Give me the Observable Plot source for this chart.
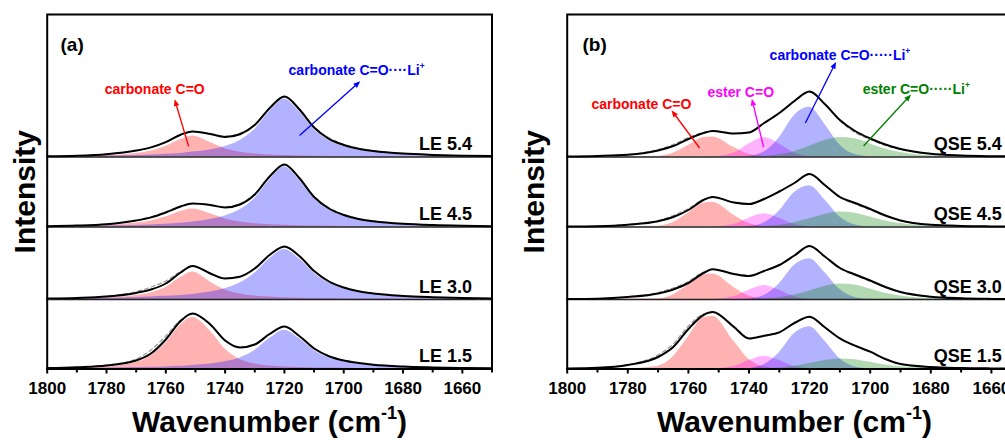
<!DOCTYPE html>
<html><head><meta charset="utf-8">
<script src="https://cdn.jsdelivr.net/npm/d3@7"></script>
<script src="https://cdn.jsdelivr.net/npm/@observablehq/plot@0.6"></script>
<style>
html,body{margin:0;padding:0;background:#fff;overflow:hidden;}
#wrap{display:flex;width:1005px;height:440px;overflow:hidden;}
#wrap svg{flex:none;}
</style></head><body><div id="wrap"></div>
<script>
// ---------- wavenumber grids (cm-1) ----------
const wnA = [1800,1790,1780,1770,1765,1760,1755,1751,1745,1740,1735,1730,1725,1720,1715,1710,1705,1700,1695,1690,1680,1670,1660,1650];
const wnB = [1800,1790,1780,1770,1765,1760,1755,1752,1745,1740,1735,1730,1725,1720,1715,1710,1705,1700,1695,1690,1680,1670,1660,1650];

// ---------- panel (a): LE electrolytes ----------
const LE54_carbonate   = [0.4,0.7,1.4,3.6,6.0,10.4,17.4,21.0,14.5,8.3,4.8,3.0,2.0,1.4,1.0,0.8,0.6,0.5,0.4,0.3,0.2,0.2,0.1,0.1];
const LE54_carbonateLi = [0.4,0.6,0.9,1.5,2.0,2.7,3.6,4.9,7.1,10.5,16.5,27.5,45.4,58.0,45.4,27.5,16.5,10.5,7.1,5.0,2.7,1.5,0.9,0.6];
const LE54_fit         = [0.8,1.3,2.8,6.4,9.6,14.8,22.3,25.5,23.0,20.0,22.8,32.0,48.8,60.5,47.8,29.5,18.2,12.0,8.2,6.0,3.4,2.1,1.3,0.9];
const LE54_measured    = [0.6,1.2,2.8,6.4,9.6,14.8,22.3,25.5,23.2,20.8,23.8,32.5,48.8,60.0,48.2,30.2,19.2,12.8,8.8,6.2,3.4,2.0,1.2,0.8];

const LE45_carbonate   = [0.4,0.8,1.6,3.9,6.1,9.9,15.5,18.0,13.2,8.1,5.1,3.3,2.3,1.7,1.3,1.0,0.8,0.6,0.5,0.4,0.3,0.2,0.15,0.1];
const LE45_carbonateLi = [0.4,0.6,1.0,1.6,2.1,2.8,3.7,5.0,7.5,11.1,17.2,28.4,47.0,60.0,47.0,28.4,17.2,11.1,7.5,5.2,2.8,1.6,1.0,0.6];
const LE45_fit         = [0.8,1.4,2.8,6.5,9.6,14.5,20.5,23.5,22.0,19.5,22.5,32.5,50.5,62.5,49.0,30.0,18.5,12.0,8.0,5.8,3.2,1.9,1.2,0.8];
const LE45_measured    = [0.6,1.3,2.8,6.6,10.0,15.2,20.8,23.5,22.2,20.2,23.5,33.0,50.5,61.8,49.2,30.5,19.3,12.7,8.4,6.0,3.2,1.8,1.1,0.7];

const LE30_carbonate   = [0.4,0.8,1.7,4.1,6.8,12.1,22.0,27.5,17.6,9.5,5.5,3.5,2.4,1.7,1.3,1.0,0.8,0.6,0.5,0.4,0.3,0.2,0.15,0.1];
const LE30_carbonateLi = [0.5,0.8,1.2,2.1,2.6,3.2,4.1,5.1,7.5,10.8,16.4,26.2,40.7,50.0,40.7,26.2,16.4,10.8,7.5,5.4,3.2,2.1,1.2,0.8];
const LE30_fit         = [0.9,1.6,3.0,6.6,10.0,16.0,27.0,33.5,26.0,21.0,22.8,31.0,44.5,53.0,43.5,28.5,18.0,12.0,8.2,6.0,3.6,2.3,1.4,0.9];
const LE30_measured    = [0.6,1.4,3.2,7.8,12.5,18.5,28.0,33.0,26.2,21.4,23.0,31.2,44.5,52.6,43.8,28.8,18.4,12.2,8.2,5.9,3.5,2.1,1.2,0.8];

const LE15_carbonate   = [0.5,1.0,2.2,6.5,13.0,26.0,44.0,51.5,38.0,20.0,9.5,5.0,3.0,2.1,1.5,1.1,0.9,0.7,0.6,0.5,0.3,0.2,0.15,0.1];
const LE15_carbonateLi = [0.4,0.6,0.9,1.4,1.7,2.1,2.7,3.4,4.9,7.2,11.1,18.4,30.4,38.8,30.4,18.4,11.1,7.2,4.9,3.5,2.0,1.3,0.8,0.5];
const LE15_fit         = [0.9,1.8,3.5,8.5,15.5,29.5,48.0,55.5,44.5,28.5,21.5,24.5,35.0,42.5,33.0,20.5,12.8,8.5,6.0,4.3,2.5,1.6,1.0,0.7];
const LE15_measured    = [0.6,1.6,3.8,10.0,19.0,33.0,49.0,55.0,44.5,28.8,21.8,24.8,35.0,42.0,33.2,20.8,13.0,8.6,6.0,4.2,2.4,1.5,0.9,0.6];

// ---------- panel (b): QSE electrolytes ----------
const QSE54_carbonate   = [0,0.1,0.3,0.7,3.7,11.4,19.4,20.1,9.5,2.7,0.4,0.1,0,0,0,0,0,0,0,0,0,0,0,0];
const QSE54_ester       = [0,0,0,0,0,0,0,0.2,3.7,12.9,19.5,12.9,3.7,0.5,0.1,0,0,0,0,0,0,0,0,0];
const QSE54_carbonateLi = [0,0,0,0,0,0,0,0,0,0.7,4.9,19.3,41.6,49.7,32.8,12.0,2.4,0.3,0,0,0,0,0,0];
const QSE54_esterLi     = [0,0,0,0,0,0,0,0,0,0.2,0.7,2.2,5.5,10.8,16.4,19.6,18.2,13.1,8.0,4.5,1.2,0.3,0,0];
const QSE54_fit         = [0.5,1.0,2.2,6.5,11.0,18.0,24.0,26.0,23.5,24.5,34.0,44.0,56.0,65.5,53.0,37.0,26.0,18.5,12.5,8.0,3.2,1.5,0.8,0.5];
const QSE54_measured    = [0.4,0.9,2.4,7.5,12.5,19.5,24.5,26.0,23.5,24.8,34.0,43.5,55.5,64.8,53.0,36.0,24.5,17.5,11.5,7.5,3.0,1.4,0.7,0.4];

const QSE45_carbonate   = [0,0.1,0.3,0.8,4.5,14.0,23.8,24.7,11.7,3.4,0.6,0.2,0,0,0,0,0,0,0,0,0,0,0,0];
const QSE45_ester       = [0,0,0,0,0,0,0,0.1,2.5,8.8,13.3,8.8,2.5,0.3,0,0,0,0,0,0,0,0,0,0];
const QSE45_carbonateLi = [0,0,0,0,0,0,0,0,0,0.6,4.1,15.9,34.5,41.2,27.2,10.0,2.0,0.2,0,0,0,0,0,0];
const QSE45_esterLi     = [0,0,0,0,0,0,0,0,0,0.1,0.5,1.7,4.2,8.2,12.5,14.9,13.8,10.0,6.0,3.4,0.9,0.2,0,0];
const QSE45_fit         = [0.4,0.8,2.3,5.7,10.0,17.0,27.0,30.0,24.5,23.0,28.0,35.5,44.0,53.0,42.0,30.0,24.0,18.0,11.5,6.5,2.2,1.0,0.6,0.4];
const QSE45_measured    = [0.3,0.8,2.5,6.5,11.5,18.5,27.5,30.0,24.5,23.3,28.0,35.0,44.0,52.5,42.0,29.5,23.0,17.0,11.0,6.3,2.1,0.9,0.5,0.3];

const QSE30_carbonate   = [0,0.1,0.3,0.8,4.6,14.4,24.5,25.4,12.1,3.5,0.6,0.2,0,0,0,0,0,0,0,0,0,0,0,0];
const QSE30_ester       = [0,0,0,0,0,0,0,0.1,2.7,9.2,14.0,9.2,2.7,0.3,0,0,0,0,0,0,0,0,0,0];
const QSE30_carbonateLi = [0,0,0,0,0,0,0,0,0,0.6,4.0,15.7,34.3,40.8,27.0,9.9,2.0,0.2,0,0,0,0,0,0];
const QSE30_esterLi     = [0,0,0,0,0,0,0,0,0,0.1,0.5,1.7,4.4,8.6,13.1,15.6,14.5,10.5,6.3,3.6,0.9,0.2,0,0];
const QSE30_fit         = [0.4,0.8,2.5,6.0,10.0,16.5,26.5,30.3,25.5,23.5,28.5,34.5,44.0,53.5,43.0,31.5,25.0,19.0,12.5,7.5,2.8,1.2,0.6,0.4];
const QSE30_measured    = [0.3,0.8,2.7,7.0,11.5,18.0,27.5,30.3,25.8,24.2,28.8,34.5,44.0,53.0,43.0,31.0,24.2,18.2,12.0,7.2,2.7,1.1,0.5,0.3];

const QSE15_carbonate   = [0,0.1,0.3,2.8,12.3,32.3,51.2,52.8,27.7,9.5,2.0,0.3,0,0,0,0,0,0,0,0,0,0,0,0];
const QSE15_ester       = [0,0,0,0,0,0,0,0.1,2.4,8.4,12.7,8.4,2.4,0.3,0,0,0,0,0,0,0,0,0,0];
const QSE15_carbonateLi = [0,0,0,0,0,0,0,0,0,0.6,4.2,16.2,35.4,42.2,27.9,10.2,2.0,0.2,0,0,0,0,0,0];
const QSE15_esterLi     = [0,0,0,0,0,0,0,0,0,0.1,0.3,1.1,2.8,5.5,8.4,10.0,9.2,6.7,4.0,2.2,0.6,0.1,0,0];
const QSE15_fit         = [0.5,1.2,4.0,12.0,22.0,40.0,54.0,57.0,42.0,30.5,33.3,36.7,46.0,52.3,41.7,30.7,23.3,17.3,10.0,5.0,2.0,1.0,0.6,0.4];
const QSE15_measured    = [0.4,1.1,4.5,14.0,25.0,43.0,55.0,56.5,43.0,30.8,33.3,36.5,45.8,52.0,41.5,30.2,22.8,17.0,9.8,4.9,1.9,0.9,0.5,0.3];

// ---------- labels ----------
const samplesA = ["LE 5.4","LE 4.5","LE 3.0","LE 1.5"];
const samplesB = ["QSE 5.4","QSE 4.5","QSE 3.0","QSE 1.5"];
const xTicks = [1800,1780,1760,1740,1720,1700,1680,1660];
const xMinorTicks = [1790,1770,1750,1730,1710,1690,1670,1650];

// annotation texts & anchors (data units: wavenumber, intensity above top trace baseline)
const annotA = [
  {text:"carbonate C=O", color:"#ff0000", x:1780.6, y:63.5, ax1:1752.3, ay1:10.5, ax2:1756.7, ay2:54.5},
  {text:"carbonate C=O····Li^{+}", color:"#0000ff", x:1718.6, y:82.5, ax1:1714.9, ay1:21.5, ax2:1695.3, ay2:73.5}
];
const annotB = [
  {text:"carbonate C=O", color:"#ff0000", x:1792, y:48, ax1:1756.3, ay1:9, ax2:1764.9, ay2:44},
  {text:"ester C=O", color:"#ff00ff", x:1753.7, y:60, ax1:1735.2, ay1:10, ax2:1738.8, ay2:55},
  {text:"carbonate C=O·····Li^{+}", color:"#0000ff", x:1733.2, y:97, ax1:1721.4, ay1:34, ax2:1711.8, ay2:92},
  {text:"ester C=O·····Li^{+}", color:"#008000", x:1702.5, y:63, ax1:1702.2, ay1:11, ax2:1687.3, ay2:60}
];

// ---------- layout ----------
const OFF = [212, 142, 69.5, 0];   // vertical offsets of the stacked traces
const YMAX = 354.5;
const FONT = "'Liberation Sans', Arial, Helvetica, sans-serif";

function panel(cfg) {
  const marks = [];
  cfg.sets.forEach((s, i) => {
    s.comps.forEach((vals, j) => {
      const d = cfg.wn.map((w, k) => ({w, v: vals[k]}));
      marks.push(Plot.areaY(d, {x: "w", y1: OFF[i], y2: r => OFF[i] + r.v,
        fill: cfg.colors[j], fillOpacity: 0.3, curve: "monotone-x"}));
    });
  });
  marks.push(Plot.ruleY(OFF.slice(0, 3), {stroke: "#222", strokeWidth: 1.3}));
  cfg.sets.forEach((s, i) => {
    const dm = cfg.wn.map((w, k) => ({w, v: s.measured[k]}));
    marks.push(Plot.lineY(dm, {x: "w", y: r => OFF[i] + r.v, stroke: "#9a9a9a", strokeWidth: 1.2,
      strokeDasharray: "4,3", curve: "monotone-x"}));
    const d = cfg.wn.map((w, k) => ({w, v: s.fit[k]}));
    marks.push(Plot.lineY(d, {x: "w", y: r => OFF[i] + r.v, stroke: "#000", strokeWidth: 2, curve: "monotone-x"}));
    marks.push(Plot.text([s.name], {x: 1650, y: OFF[i] + 7, dx: -20, text: d => d, textAnchor: "end",
      lineAnchor: "bottom", fontSize: 18, fontWeight: "bold", fill: "#000"}));
  });
  cfg.annot.forEach(a => {
    marks.push(Plot.link([a], {x1: "ax1", y1: d => OFF[0] + d.ay1, x2: "ax2", y2: d => OFF[0] + d.ay2,
      stroke: a.color, strokeWidth: 1.3, markerEnd: "arrow"}));
    marks.push(Plot.text([a], {x: "x", y: d => OFF[0] + d.y, text: "text", fill: a.color, textAnchor: "start",
      lineAnchor: "bottom", fontSize: 14, fontWeight: "bold"}));
  });
  marks.push(Plot.text([cfg.tag], {x: cfg.tagX, y: OFF[0] + 106.5, text: d => d, textAnchor: "start",
    lineAnchor: "bottom", fontSize: 19, fontWeight: "bold"}));
  marks.push(Plot.frame({stroke: "#000", strokeWidth: 2}));
  marks.push(Plot.axisX({ticks: xTicks, tickSize: 5, tickPadding: 8, fontSize: 17, fontWeight: "bold",
    label: null, strokeWidth: 2, tickFormat: d => String(d)}));
  marks.push(Plot.axisX({ticks: xMinorTicks, tickSize: 4, tickFormat: () => "", label: null, strokeWidth: 2}));
  marks.push(Plot.axisX({ticks: [], label: "Wavenumber (cm^{-1})", labelAnchor: "center", labelArrow: "none",
    labelOffset: 63, fontSize: 30, fontWeight: "bold"}));
  marks.push(Plot.axisY({ticks: [], label: "Intensity", labelAnchor: "center", labelArrow: "none",
    labelOffset: cfg.yLabelOffset, fontSize: 30, fontWeight: "bold"}));
  return Plot.plot({
    width: cfg.width, height: 440,
    marginLeft: cfg.marginLeft, marginRight: cfg.marginRight, marginTop: 14, marginBottom: 71.5,
    x: {domain: [1800, 1650]},
    y: {domain: [0, YMAX]},
    style: {fontFamily: FONT, background: "#fff", overflow: "visible"},
    marks
  });
}

function supify(svg) {
  d3.select(svg).selectAll("text").each(function() {
    const t = this.textContent;
    if (!t.includes("^{")) return;
    const fs = parseFloat(getComputedStyle(this).fontSize) || 14;
    const parts = t.split(/\^\{([^}]*)\}/);
    const el = d3.select(this);
    el.text(null);
    let shifted = false;
    parts.forEach((p, i) => {
      if (!p) return;
      const ts = el.append("tspan").text(p);
      if (i % 2 === 1) { ts.attr("dy", -0.42 * fs).attr("font-size", 0.6 * fs); shifted = true; }
      else if (shifted) { ts.attr("dy", 0.42 * fs); shifted = false; }
    });
  });
  // filled triangular arrow heads
  d3.select(svg).selectAll("marker").each(function() {
    const m = d3.select(this);
    const c = m.attr("stroke");
    m.attr("fill", c).attr("stroke", "none");
    m.selectAll("path").attr("d", "M-4,-3.2L4,0L-4,3.2Z");
  });
}

const colA = ["#ff0000", "#0000ff"];
const colB = ["#ff0000", "#ff00ff", "#0000ff", "#008000"];

const svgA = panel({
  wn: wnA, colors: colA, annot: annotA, tag: "(a)", tagX: 1795.5,
  width: 502, marginLeft: 46.7, marginRight: 10.5, yLabelOffset: 33.7,
  sets: [
    {name: samplesA[0], comps: [LE54_carbonate, LE54_carbonateLi], fit: LE54_fit, measured: LE54_measured},
    {name: samplesA[1], comps: [LE45_carbonate, LE45_carbonateLi], fit: LE45_fit, measured: LE45_measured},
    {name: samplesA[2], comps: [LE30_carbonate, LE30_carbonateLi], fit: LE30_fit, measured: LE30_measured},
    {name: samplesA[3], comps: [LE15_carbonate, LE15_carbonateLi], fit: LE15_fit, measured: LE15_measured}
  ]
});
const svgB = panel({
  wn: wnB, colors: colB, annot: annotB, tag: "(b)", tagX: 1794.95,
  width: 530, marginLeft: 64.7, marginRight: 10.8, yLabelOffset: 45,
  sets: [
    {name: samplesB[0], comps: [QSE54_carbonate, QSE54_ester, QSE54_carbonateLi, QSE54_esterLi], fit: QSE54_fit, measured: QSE54_measured},
    {name: samplesB[1], comps: [QSE45_carbonate, QSE45_ester, QSE45_carbonateLi, QSE45_esterLi], fit: QSE45_fit, measured: QSE45_measured},
    {name: samplesB[2], comps: [QSE30_carbonate, QSE30_ester, QSE30_carbonateLi, QSE30_esterLi], fit: QSE30_fit, measured: QSE30_measured},
    {name: samplesB[3], comps: [QSE15_carbonate, QSE15_ester, QSE15_carbonateLi, QSE15_esterLi], fit: QSE15_fit, measured: QSE15_measured}
  ]
});
const wrap = document.getElementById("wrap");
wrap.appendChild(svgA);
wrap.appendChild(svgB);
supify(svgA);
supify(svgB);
</script>
</body></html>
